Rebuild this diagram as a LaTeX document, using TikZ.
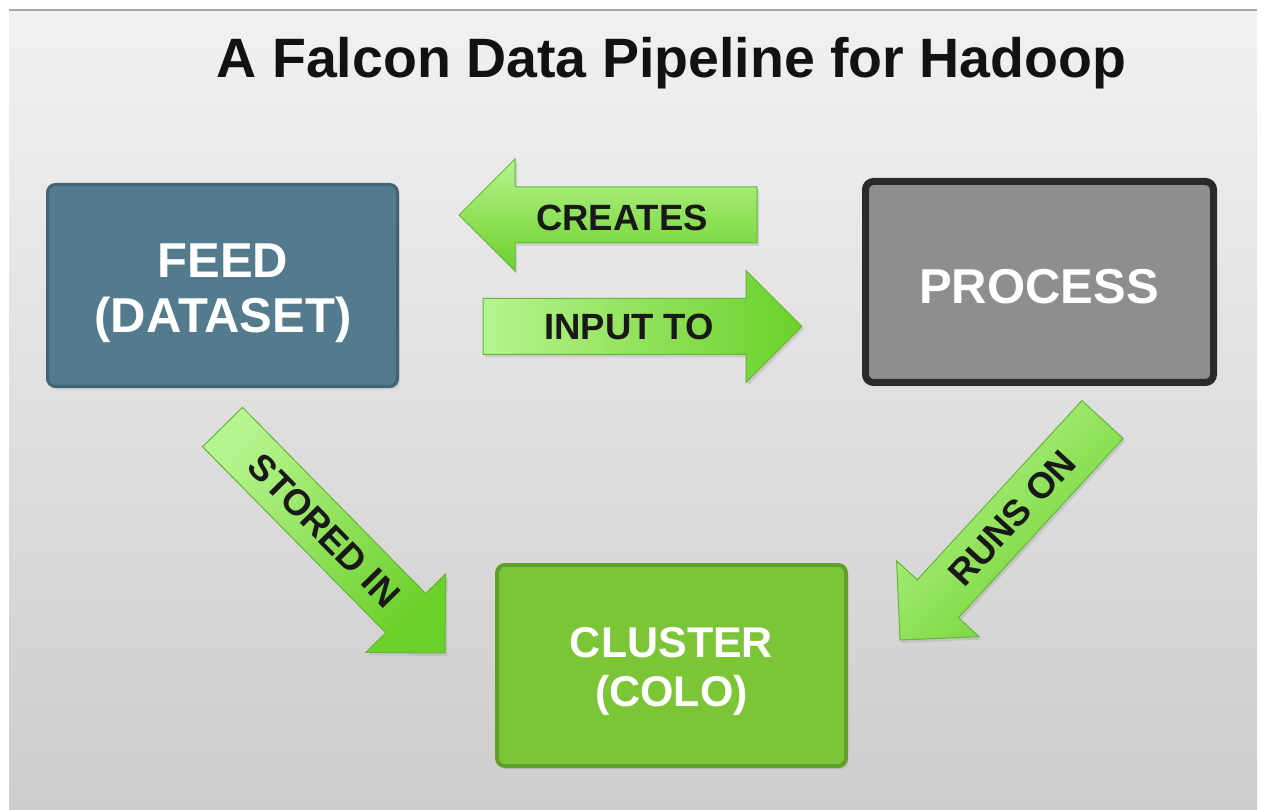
\documentclass[tikz,border=0pt]{standalone}
\usepackage{fontspec}
\setmainfont{Liberation Sans}
\usetikzlibrary{shadows,calc}
\definecolor{feedfill}{HTML}{537A8D}
\definecolor{feedline}{HTML}{416475}
\definecolor{procfill}{HTML}{8E8E8E}
\definecolor{procline}{HTML}{2A2A2A}
\definecolor{clusfill}{HTML}{7CC537}
\definecolor{clusline}{HTML}{5F9F2B}
\definecolor{arrlight}{HTML}{B6F48E}
\definecolor{arrdark}{HTML}{6CD02A}
\definecolor{arrline}{HTML}{66B63A}
\definecolor{bgtop}{HTML}{F1F1F1}
\definecolor{bgbot}{HTML}{CDCDCD}
\definecolor{topline}{HTML}{A8A8A8}
% block arrow from tail coordinate #2 to tip coordinate #3
\newcommand{\BlockArrow}[3]{%
  \coordinate (#2-b) at ($(#3)!56pt!(#2)$);
  \draw[blockarrow,#1]
    ($(#2)!28pt!90:(#3)$) -- ($(#2-b)!28pt!90:(#3)$) --
    ($(#2-b)!56pt!90:(#3)$) -- (#3) --
    ($(#2-b)!56pt!-90:(#3)$) -- ($(#2-b)!28pt!-90:(#3)$) --
    ($(#2)!28pt!-90:(#3)$) -- cycle;}
\begin{document}
\begin{tikzpicture}[x=1pt,y=-1pt,
  softshadow/.style={drop shadow={opacity=0.22, shadow xshift=2pt, shadow yshift=-3pt}},
  box/.style={rectangle, rounded corners=8pt, inner sep=0pt, softshadow},
  boxtext/.style={text=white, align=center, inner sep=0pt,
    font=\bfseries\fontsize{49pt}{55pt}\selectfont},
  blockarrow/.style={draw=arrline, line width=1pt, line join=miter, softshadow},
  arrlabel/.style={font=\bfseries\fontsize{36.5pt}{40pt}\selectfont,
    text=black!90, inner sep=0pt}]
\useasboundingbox (0,0) rectangle (1262,810);
\fill[white] (0,0) rectangle (1262,810);
\shade[top color=bgtop, bottom color=bgbot] (9,10) rectangle (1257,810);
\draw[topline, line width=1.5pt] (9,10) -- (1257,10);

\node[font=\bfseries\fontsize{55.5pt}{60pt}\selectfont, anchor=base, inner sep=0pt,
  text=black!93] (title) at (671.5,78) {A Falcon Data Pipeline for Hadoop};

% boxes
\node[box, fill=feedfill, draw=feedline, line width=3pt,
  minimum width=350pt, minimum height=202pt] (feed) at (222.5,285.5) {};
\node[boxtext] (feedtext) at (223,293) {FEED\\(DATASET)};
\node[box, fill=procfill, draw=procline, line width=7pt,
  minimum width=348pt, minimum height=201pt] (process) at (1039.5,282) {};
\node[boxtext] (proctext) at (1039,286.5) {PROCESS};
\node[box, fill=clusfill, draw=clusline, line width=4pt,
  minimum width=349pt, minimum height=201pt] (cluster) at (671.5,665.5) {};
\node[boxtext, font=\bfseries\fontsize{43pt}{49pt}\selectfont] (clustext)
  at (671.5,671.5) {CLUSTER\\(COLO)};

% block arrows
\coordinate (createsT) at (757,215);   \coordinate (createsP) at (459,215);
\coordinate (inputT)   at (483,326.5); \coordinate (inputP)   at (802,326.5);
\coordinate (storedT)  at (222.5,427); \coordinate (storedP)  at (445,653);
\coordinate (runsT)    at (1102.5,419.5); \coordinate (runsP) at (900,640);

\BlockArrow{top color=arrlight, bottom color=arrdark}{createsT}{createsP}
\BlockArrow{left color=arrlight, right color=arrdark}{inputT}{inputP}
\BlockArrow{left color=arrlight, right color=arrdark, shading angle=45}{storedT}{storedP}
\BlockArrow{left color=arrlight, right color=arrdark, shading angle=45}{runsT}{runsP}

\node[arrlabel] (lcreates) at (622,218) {CREATES};
\node[arrlabel] (linputto) at (629,327) {INPUT TO};
\node[arrlabel, rotate=-45.4] (lstoredin) at ($(storedT)!0.458!(storedP)$) {STORED IN};
\node[arrlabel, rotate=47.4] (lrunson) at ($(runsT)!0.447!(runsP)$) {RUNS ON};
\end{tikzpicture}
\end{document}
